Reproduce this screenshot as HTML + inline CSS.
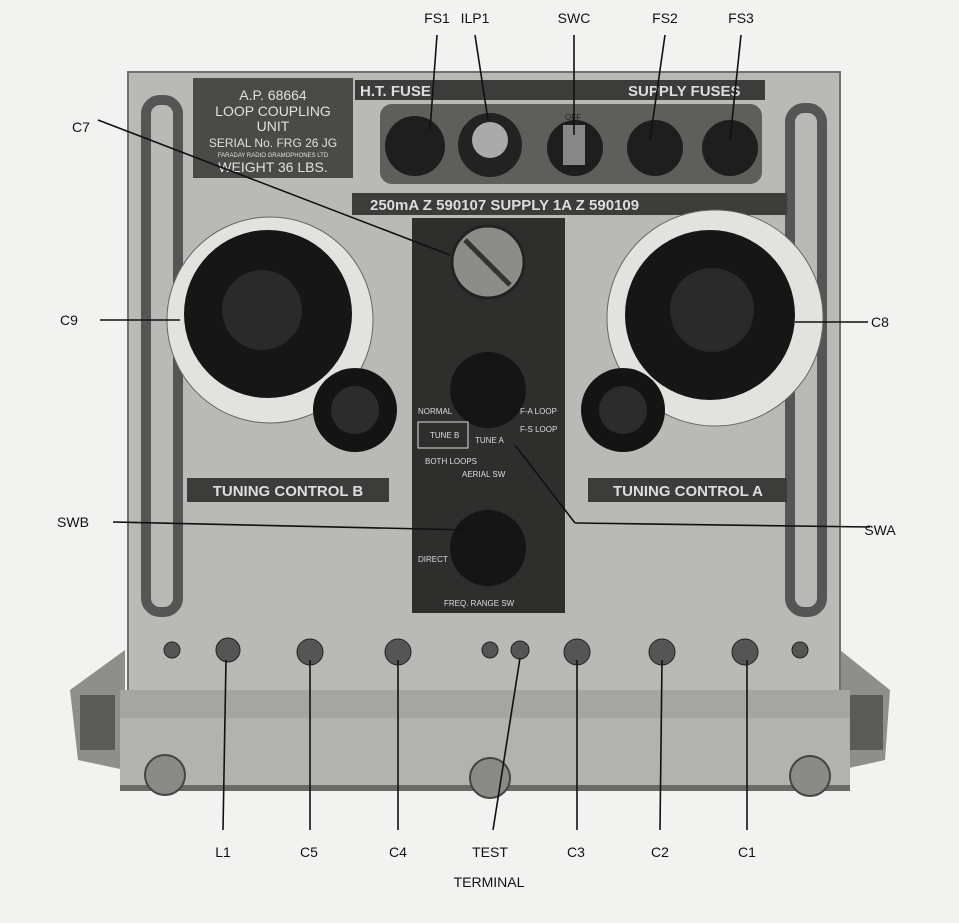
<!DOCTYPE html>
<html><head><style>
html,body{margin:0;padding:0;background:#f2f2f0;}
svg{display:block;font-family:"Liberation Sans",sans-serif;}
</style></head><body>
<svg width="959" height="923" viewBox="0 0 959 923" xmlns="http://www.w3.org/2000/svg">
<rect width="959" height="923" fill="#f2f2f0"/>
<!-- side brackets -->
<path d="M70 690 L125 650 L125 770 L78 760 Z" fill="#8e8e8a"/>
<path d="M890 690 L840 650 L840 770 L885 760 Z" fill="#8e8e8a"/>
<rect x="80" y="695" width="35" height="55" fill="#5a5a56"/>
<rect x="848" y="695" width="35" height="55" fill="#5a5a56"/>
<!-- main panel -->
<rect x="128" y="72" width="712" height="620" fill="#b9b9b5"/>
<rect x="128" y="72" width="712" height="620" fill="none" stroke="#707070" stroke-width="2"/>
<!-- bottom bar -->
<rect x="120" y="690" width="730" height="28" fill="#a5a5a1"/>
<rect x="120" y="718" width="730" height="72" fill="#b2b2ae"/>
<rect x="120" y="785" width="730" height="6" fill="#6a6a66"/>
<circle cx="165" cy="775" r="20" fill="#8a8a86" stroke="#444" stroke-width="2"/>
<circle cx="490" cy="778" r="20" fill="#8a8a86" stroke="#444" stroke-width="2"/>
<circle cx="810" cy="776" r="20" fill="#8a8a86" stroke="#444" stroke-width="2"/>
<!-- handles -->
<rect x="146" y="100" width="32" height="512" rx="14" fill="none" stroke="#555" stroke-width="10"/>
<rect x="790" y="108" width="32" height="504" rx="14" fill="none" stroke="#555" stroke-width="10"/>
<!-- nameplate -->
<rect x="193" y="78" width="160" height="100" fill="#4a4a48"/>
<g fill="#e0e0dc" font-size="14" text-anchor="middle">
<text x="273" y="100">A.P. 68664</text>
<text x="273" y="116">LOOP COUPLING</text>
<text x="273" y="131">UNIT</text>
<text x="273" y="147" font-size="12">SERIAL No. FRG 26 JG</text>
<text x="273" y="157" font-size="6">FARADAY RADIO GRAMOPHONES LTD</text>
<text x="273" y="172">WEIGHT 36 LBS.</text>
</g>
<!-- fuse strip -->
<rect x="355" y="80" width="410" height="20" fill="#3c3c3a"/>
<text x="360" y="96" fill="#ddd" font-size="15" font-weight="bold">H.T. FUSE</text>
<text x="628" y="96" fill="#ddd" font-size="15" font-weight="bold">SUPPLY FUSES</text>
<rect x="380" y="104" width="382" height="80" rx="12" fill="#5e5e5a"/>
<circle cx="415" cy="146" r="30" fill="#1e1e1e"/>
<circle cx="490" cy="145" r="32" fill="#222"/><circle cx="490" cy="140" r="18" fill="#aaa"/>
<circle cx="575" cy="148" r="28" fill="#1e1e1e"/><rect x="563" y="125" width="22" height="40" fill="#888"/>
<circle cx="655" cy="148" r="28" fill="#1e1e1e"/>
<circle cx="730" cy="148" r="28" fill="#1e1e1e"/>
<text x="565" y="120" font-size="8" fill="#222">OFF</text><text x="565" y="175" font-size="8" fill="#222">ON</text>
<!-- supply strip -->
<rect x="352" y="193" width="435" height="22" fill="#3c3c3a"/>
<text x="370" y="210" fill="#ddd" font-size="15" font-weight="bold">250mA Z 590107  SUPPLY   1A  Z 590109</text>
<!-- center panel -->
<rect x="412" y="218" width="153" height="395" fill="#2e2e2c"/>
<circle cx="488" cy="262" r="36" fill="#8c8c88" stroke="#222" stroke-width="3"/>
<line x1="465" y1="240" x2="510" y2="285" stroke="#333" stroke-width="5"/>
<circle cx="488" cy="390" r="38" fill="#151515"/>
<circle cx="488" cy="548" r="38" fill="#151515"/>
<g fill="#ddd" font-size="8">
<text x="418" y="414">NORMAL</text><text x="520" y="414">F-A LOOP</text>
<rect x="418" y="422" width="50" height="26" fill="none" stroke="#ddd"/>
<text x="430" y="438">TUNE B</text><text x="520" y="432">F-S LOOP</text><text x="475" y="443">TUNE A</text>
<text x="425" y="464">BOTH LOOPS</text><text x="462" y="477">AERIAL SW</text>
<text x="418" y="562">DIRECT</text><text x="444" y="606">FREQ. RANGE SW</text>
</g>
<!-- dials -->
<circle cx="270" cy="320" r="103" fill="#e2e2de" stroke="#666"/>
<circle cx="268" cy="314" r="84" fill="#161616"/><circle cx="262" cy="310" r="40" fill="#2a2a2a"/>
<circle cx="715" cy="318" r="108" fill="#e2e2de" stroke="#666"/>
<circle cx="710" cy="315" r="85" fill="#161616"/><circle cx="712" cy="310" r="42" fill="#2a2a2a"/>
<circle cx="355" cy="410" r="42" fill="#141414"/><circle cx="355" cy="410" r="24" fill="#2c2c2c"/>
<circle cx="623" cy="410" r="42" fill="#141414"/><circle cx="623" cy="410" r="24" fill="#2c2c2c"/>
<!-- tuning labels -->
<rect x="187" y="478" width="202" height="24" fill="#3c3c3a"/>
<text x="288" y="496" fill="#ddd" font-size="15" font-weight="bold" text-anchor="middle">TUNING CONTROL B</text>
<rect x="588" y="478" width="199" height="24" fill="#3c3c3a"/>
<text x="688" y="496" fill="#ddd" font-size="15" font-weight="bold" text-anchor="middle">TUNING CONTROL A</text>
<!-- terminals -->
<g fill="#555" stroke="#222">
<circle cx="172" cy="650" r="8"/><circle cx="228" cy="650" r="12"/><circle cx="310" cy="652" r="13"/>
<circle cx="398" cy="652" r="13"/><circle cx="490" cy="650" r="8"/><circle cx="520" cy="650" r="9"/>
<circle cx="577" cy="652" r="13"/><circle cx="662" cy="652" r="13"/><circle cx="745" cy="652" r="13"/><circle cx="800" cy="650" r="8"/>
</g>
<!-- leader lines -->
<g stroke="#111" stroke-width="1.6" fill="none">
<line x1="437" y1="35" x2="430" y2="130"/><line x1="475" y1="35" x2="488" y2="120"/>
<line x1="574" y1="35" x2="574" y2="135"/><line x1="665" y1="35" x2="650" y2="140"/>
<line x1="741" y1="35" x2="730" y2="140"/>
<line x1="98" y1="120" x2="450" y2="255"/>
<line x1="100" y1="320" x2="180" y2="320"/>
<line x1="795" y1="322" x2="868" y2="322"/>
<line x1="113" y1="522" x2="470" y2="530"/>
<line x1="870" y1="527" x2="575" y2="523"/><line x1="575" y1="523" x2="515" y2="445"/>
<line x1="223" y1="830" x2="226" y2="660"/><line x1="310" y1="830" x2="310" y2="660"/>
<line x1="398" y1="830" x2="398" y2="660"/><line x1="493" y1="830" x2="520" y2="658"/>
<line x1="577" y1="830" x2="577" y2="660"/><line x1="660" y1="830" x2="662" y2="660"/>
<line x1="747" y1="830" x2="747" y2="660"/>
</g>
<g font-size="14" fill="#111" text-anchor="middle">
<text x="437" y="23">FS1</text><text x="475" y="23">ILP1</text><text x="574" y="23">SWC</text>
<text x="665" y="23">FS2</text><text x="741" y="23">FS3</text>
<text x="81" y="132">C7</text><text x="69" y="325">C9</text><text x="880" y="327">C8</text>
<text x="73" y="527">SWB</text><text x="880" y="535">SWA</text>
<text x="223" y="857">L1</text><text x="309" y="857">C5</text><text x="398" y="857">C4</text>
<text x="490" y="857">TEST</text><text x="576" y="857">C3</text><text x="660" y="857">C2</text><text x="747" y="857">C1</text>
<text x="489" y="887">TERMINAL</text>
</g>
</svg>
</body></html>
